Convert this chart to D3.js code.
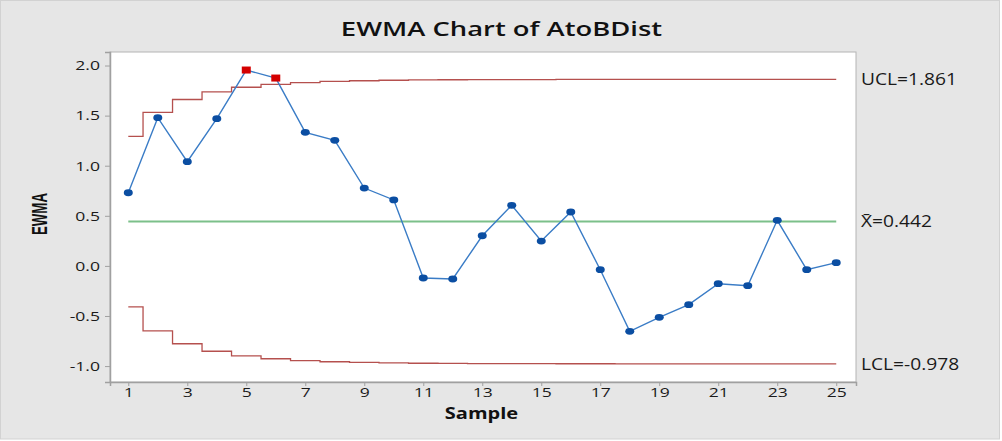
<!DOCTYPE html>
<html><head><meta charset="utf-8">
<script src="https://cdn.jsdelivr.net/npm/d3@7"></script>
<style>
html,body{margin:0;padding:0;background:#e6e6e6;}
svg{display:block;}
</style></head>
<body>
<svg id="chart" width="1002" height="441"></svg>
<script>
const samples = d3.range(1, 26);
const ewma = [0.73,1.479,1.04,1.469,1.955,1.875,1.333,1.253,0.777,0.658,-0.121,-0.131,0.301,0.605,0.248,0.538,-0.038,-0.653,-0.513,-0.387,-0.178,-0.198,0.455,-0.038,0.032];
const ucl = [1.293,1.532,1.661,1.736,1.783,1.811,1.829,1.841,1.848,1.853,1.856,1.858,1.859,1.860,1.860,1.861,1.861,1.861,1.861,1.861,1.861,1.861,1.861,1.861,1.861];
const lcl = [-0.409,-0.648,-0.777,-0.852,-0.899,-0.927,-0.945,-0.957,-0.964,-0.969,-0.972,-0.974,-0.975,-0.976,-0.976,-0.977,-0.977,-0.978,-0.978,-0.978,-0.978,-0.978,-0.978,-0.978,-0.978];
const center = 0.442;
const xTicks = [1,3,5,7,9,11,13,15,17,19,21,23,25];
const yTicks = [-1.0,-0.5,0.0,0.5,1.0,1.5,2.0];
const limitLabels = [{t:"UCL=1.861", v:1.861},{t:"X\u0304=0.442", v:0.442},{t:"LCL=-0.978", v:-0.978}];

const svg = d3.select("#chart");
const L=110, R=856, T=52, B=382;
const x = d3.scaleLinear().domain([0.38, 25.67]).range([L, R]);
const y = d3.scaleLinear().domain([-1.159, 2.135]).range([B, T]);
const SX = 1.3; // horizontal glyph stretch seen in the reference

// frame
svg.append("rect").attr("x",0).attr("y",0).attr("width",1002).attr("height",441).attr("fill","#ffffff");
svg.append("rect").attr("x",0.5).attr("y",0.5).attr("width",999).attr("height",438.5).attr("fill","#e6e6e6").attr("stroke","#d2d2d2");

// plot area
svg.append("rect").attr("x",L).attr("y",T).attr("width",R-L).attr("height",B-T).attr("fill","#ffffff").attr("stroke","#b4b4b4").attr("stroke-width",1);

const font = "'Open Sans', 'Noto Sans', sans-serif";

// axes
const xAxis = d3.axisBottom(x).tickValues(xTicks).tickSize(4).tickFormat(d3.format("d"));
const gx = svg.append("g").attr("transform",`translate(0,${B})`).call(xAxis);
gx.select(".domain").attr("stroke","#a0a0a0").attr("stroke-width",1.5);
gx.selectAll(".tick line").attr("stroke","#a0a0a0");
gx.selectAll(".tick text").attr("font-family",font).attr("font-size",13.5).attr("fill","#1a1a1a")
  .attr("y",0).attr("dy",null).attr("transform",`translate(0,14.5) scale(${SX},1)`);

const yAxis = d3.axisLeft(y).tickValues(yTicks).tickSize(5).tickFormat(d=>d3.format(".1f")(d).replace("\u2212","-"));
const gy = svg.append("g").attr("transform",`translate(${L},0)`).call(yAxis);
gy.select(".domain").attr("stroke","#a0a0a0").attr("stroke-width",1.5);
gy.selectAll(".tick line").attr("stroke","#a0a0a0");
gy.selectAll(".tick text").attr("font-family",font).attr("font-size",13.5).attr("fill","#1a1a1a")
  .attr("x",0).attr("transform",`translate(-10,0) scale(${SX},1)`);

// limits
function stepPts(arr){
  const pts=[];
  arr.forEach((v,i)=>{
    const s=i+1;
    pts.push([Math.max(1,s-0.5),v]);
    pts.push([Math.min(samples.length,s+0.5),v]);
  });
  return pts;
}
const line = d3.line().x(d=>x(d[0])).y(d=>y(d[1]));
svg.append("path").attr("d",line(stepPts(ucl))).attr("fill","none").attr("stroke","#b5504e").attr("stroke-width",1.3);
svg.append("path").attr("d",line(stepPts(lcl))).attr("fill","none").attr("stroke","#b5504e").attr("stroke-width",1.3);
svg.append("path").attr("d",line([[1,center],[samples.length,center]])).attr("fill","none").attr("stroke","#7cc08a").attr("stroke-width",2);

// data line
svg.append("path").attr("d",d3.line().x((d,i)=>x(samples[i])).y(d=>y(d))(ewma)).attr("fill","none").attr("stroke","#3a7cc6").attr("stroke-width",1.4);

const pts = ewma.map((v,i)=>({s:samples[i],v,out:v>ucl[i]||v<lcl[i]}));
svg.selectAll("ellipse.pt").data(pts.filter(d=>!d.out)).join("ellipse").attr("class","pt")
  .attr("cx",d=>x(d.s)).attr("cy",d=>y(d.v)).attr("rx",4.5).attr("ry",3.4).attr("fill","#0b4ea2");
svg.selectAll("rect.out").data(pts.filter(d=>d.out)).join("rect").attr("class","out")
  .attr("x",d=>x(d.s)-4.5).attr("y",d=>y(d.v)-3.5).attr("width",9).attr("height",7).attr("fill","#d40000");

// limit labels
svg.selectAll("text.lim").data(limitLabels).join("text").attr("class","lim")
  .attr("transform",d=>`translate(861,${y(d.v)}) scale(1.2,1)`).attr("dy","0.36em")
  .attr("font-family",font).attr("font-size",16).attr("fill","#1a1a1a").text(d=>d.t);

// titles
svg.append("text").attr("transform","translate(501.5,29) scale(1.37,1)").attr("dy","0.35em").attr("text-anchor","middle")
  .attr("font-family",font).attr("font-weight",600).attr("font-size",20).attr("fill","#111").text("EWMA Chart of AtoBDist");
svg.append("text").attr("transform","translate(481.5,419) scale(1.25,1)").attr("text-anchor","middle")
  .attr("font-family",font).attr("font-weight",700).attr("font-size",16).attr("fill","#111").text("Sample");
svg.append("text").attr("transform","translate(39.5,214) rotate(-90) scale(0.83,1.36)").attr("dy","0.36em").attr("text-anchor","middle")
  .attr("font-family","'Liberation Sans', Arial, sans-serif").attr("font-weight",700).attr("font-size",16).attr("fill","#111").text("EWMA");
</script>
</body></html>
